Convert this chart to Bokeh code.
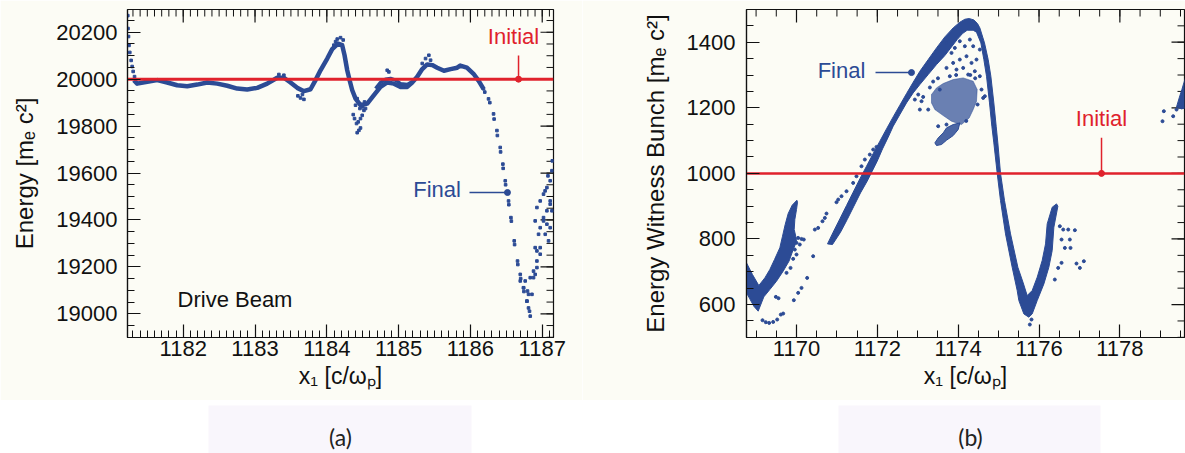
from bokeh.plotting import figure
from bokeh.layouts import column, row
from bokeh.models import SingleIntervalTicker, Range1d
from bokeh.core.properties import value
from bokeh.embed import file_html
from bokeh.resources import INLINE

BLUE = "#2c4b95"
RED = "#e0222c"
BG = "#fcfcf5"
INK = "#111111"
FONT = "Liberation Sans"

# ---------------- panel (a): drive beam ----------------
a_band_x = [1181.313, 1181.359, 1181.499, 1181.638, 1181.777, 1181.916, 1182.056, 1182.195, 1182.334,
            1182.473, 1182.613, 1182.752, 1182.891, 1183.031, 1183.170, 1183.309, 1183.402, 1183.494,
            1183.588, 1183.681, 1183.773, 1183.843, 1183.912, 1184.006, 1184.075, 1184.155, 1184.214,
            1184.247, 1184.284, 1184.321, 1184.354, 1184.400, 1184.469, 1184.563, 1184.656, 1184.748,
            1184.841, 1184.935, 1185.027, 1185.120, 1185.189, 1185.259, 1185.329, 1185.398, 1185.468,
            1185.537, 1185.631, 1185.723, 1185.816, 1185.858, 1185.951, 1186.043, 1186.113, 1186.182]
a_band_y = [19996, 19981, 19989, 19996, 19986, 19974, 19970, 19977, 19986, 19981, 19972, 19960, 19956,
            19963, 19981, 20006, 20006, 19986, 19963, 19949, 19957, 19996, 20038, 20088, 20128, 20152,
            20145, 20102, 20038, 19991, 19953, 19917, 19889, 19896, 19932, 19967, 19986, 19981, 19967,
            19967, 19986, 20010, 20043, 20063, 20060, 20049, 20036, 20043, 20049, 20058, 20049, 20023,
            19994, 19959]

a_branch_x = [1184.679, 1184.748, 1184.818, 1184.888, 1184.957, 1185.027, 1185.120, 1185.189]
a_branch_y = [19960, 19986, 20000, 20003, 19996, 19981, 19977, 19989]

a_pts_x = [1181.228, 1181.231, 1181.238, 1181.245, 1181.256, 1181.275, 1181.289, 1181.303, 1181.322,
           1183.597, 1183.634, 1183.681, 1183.660, 1183.332, 1183.402,
           1184.145, 1184.191, 1184.122, 1184.228, 1184.098,
           1184.368, 1184.386, 1184.414, 1184.423, 1184.447, 1184.469, 1184.437, 1184.493, 1184.517,
           1184.539, 1184.461, 1184.400, 1184.469, 1184.525, 1184.423, 1184.497,
           1184.841, 1184.864, 1185.421, 1185.375, 1185.445, 1185.329,
           1186.113, 1186.182, 1186.252, 1186.322, 1186.369, 1186.415, 1186.452, 1186.485, 1186.531,
           1186.564, 1186.610, 1186.656, 1186.694, 1186.740, 1186.787, 1186.823,
           1186.200, 1186.270, 1186.330, 1186.375, 1186.420, 1186.456, 1186.490, 1186.535, 1186.570,
           1186.615, 1186.660, 1186.700, 1186.745,
           1186.902, 1186.926, 1186.972, 1187.018, 1187.065, 1187.111, 1187.135, 1186.972, 1187.018,
           1187.065, 1186.949, 1186.902, 1186.926, 1186.972, 1187.111, 1187.088, 1187.042, 1187.111,
           1186.879, 1186.833, 1186.763, 1186.795, 1186.857, 1186.809, 1186.833, 1186.902, 1186.926,
           1186.972, 1187.065, 1187.135, 1186.694, 1186.740, 1186.787, 1186.926, 1187.018, 1187.111,
           1186.879, 1186.809, 1187.080, 1187.140, 1187.040]
a_pts_y = [20271, 20216, 20182, 20144, 20114, 20080, 20054, 20033, 20011,
           19929, 19920, 19914, 19935, 20020, 20017,
           20171, 20177, 20160, 20167, 20145,
           19849, 19832, 19811, 19772, 19782, 19792, 19818, 19846, 19867,
           19875, 19875, 19889, 19832, 19903, 19917, 19882,
           20038, 20031, 20102, 20088, 20081, 20067,
           19994, 19959, 19916, 19852, 19781, 19709, 19638, 19567, 19481,
           19410, 19311, 19225, 19168, 19111, 19054, 19011,
           19945, 19900, 19830, 19760, 19690, 19620, 19550, 19465, 19395,
           19295, 19210, 19150, 19095,
           19396, 19453, 19481, 19510, 19538, 19567, 19610, 19367, 19410,
           19439, 19339, 19282, 19225, 19254, 19481, 19311, 19339, 19367,
           19182, 19154, 19140, 19097, 19083, 19025, 18990, 19168, 19197,
           19282, 19382, 19439, 19140, 19111, 19054, 19268, 19396, 19467,
           19154, 19083, 19588, 19652, 19524]

a_text_x = [1185.535, 1186.600, 1182.721]
a_text_y = [19530, 20182, 19063]
a_text = ["Final", "Initial", "Drive Beam"]
a_initial_level = 20000

a_x_range = (1181.224, 1187.157)
a_y_range = (18899, 20297)
a_x_major = [1182, 1183, 1184, 1185, 1186, 1187]
a_y_major = [19000, 19200, 19400, 19600, 19800, 20000, 20200]

# ---------------- panel (b): witness bunch ----------------
b_left_x = [1168.763, 1168.911, 1169.068, 1169.217, 1169.340, 1169.456, 1169.588, 1169.654, 1169.720,
            1169.794, 1169.893, 1170.009, 1170.025, 1170.000, 1169.959, 1169.943, 1170.000, 1169.984,
            1169.918, 1169.819, 1169.670, 1169.505, 1169.340, 1169.192, 1169.052, 1168.944, 1168.845,
            1168.763]
b_left_y = [727.1, 691.5, 658.0, 681.3, 706.7, 737.2, 773.3, 808.3, 843.9, 877.5, 902.9, 918.1, 912.1,
            889.7, 859.2, 828.7, 798.2, 787.1, 767.7, 733.2, 701.7, 671.1, 645.7, 623.4, 579.8, 594.9,
            617.3, 635.6]

b_main_x = [1170.767, 1170.907, 1171.072, 1171.237, 1171.402, 1171.567, 1171.732, 1171.897, 1172.062,
            1172.227, 1172.392, 1172.557, 1172.722, 1172.887, 1173.052, 1173.258, 1173.464, 1173.670,
            1173.876, 1174.041, 1174.165, 1174.272, 1174.387, 1174.478,
            1174.536, 1174.651, 1174.742, 1174.808, 1174.882, 1174.940, 1174.981, 1175.047, 1175.146,
            1175.295, 1175.476, 1175.608, 1175.707,
            1175.831, 1175.955, 1176.078, 1176.161, 1176.202, 1176.326, 1176.433,
            1176.466, 1176.367, 1176.326, 1176.243, 1176.120, 1175.955, 1175.831, 1175.748,
            1175.625, 1175.501, 1175.460,
            1175.336, 1175.171, 1175.047, 1174.965, 1174.882, 1174.833, 1174.775, 1174.701, 1174.635,
            1174.561, 1174.453,
            1174.371, 1174.222, 1174.107, 1173.975, 1173.835, 1173.670, 1173.464, 1173.258, 1173.052,
            1172.887, 1172.722,
            1172.557, 1172.392, 1172.268, 1172.128, 1171.996, 1171.872, 1171.748, 1171.583, 1171.419,
            1171.254, 1171.089, 1170.890]
b_main_y = [785.0, 820.6, 861.2, 901.9, 942.6, 983.2, 1021.8, 1060.5, 1098.1, 1135.7, 1172.3, 1207.9,
            1243.4, 1278.0, 1311.5, 1347.1, 1382.7, 1416.2, 1443.7, 1461.0, 1470.1, 1472.2, 1468.1, 1456.9,
            1443.7, 1398.0, 1347.1, 1296.3, 1215.0, 1143.8, 1093.0, 1000.5, 917.1, 815.5, 713.8, 666.1,
            627.4,
            642.7, 683.4, 734.2, 785.0, 846.0, 896.8, 907.0,
            899.8, 835.8, 764.7, 713.8, 663.0, 612.2, 571.5, 561.4,
            571.5, 612.2, 642.7,
            713.8, 815.5, 917.1, 1000.5, 1093.0, 1143.8, 1215.0, 1296.3, 1347.1, 1398.0, 1430.5,
            1436.6, 1436.6, 1426.4, 1408.1, 1385.7, 1359.3, 1331.9, 1301.4, 1270.9, 1245.5, 1215.0,
            1179.4, 1143.8, 1110.3, 1074.7, 1037.1, 1006.6, 976.1, 940.5, 899.9, 859.2, 820.6, 783.0]

b_blob_x = [1173.340, 1173.464, 1173.629, 1173.876, 1174.124, 1174.371, 1174.470, 1174.453, 1174.371,
            1174.272, 1174.082, 1173.835, 1173.629, 1173.423, 1173.340]
b_blob_y = [1240.4, 1260.7, 1274.0, 1286.1, 1291.2, 1281.1, 1255.6, 1220.1, 1194.6, 1169.2, 1148.9,
            1159.1, 1176.4, 1194.6, 1215.0]

b_tail_x = [1173.423, 1173.505, 1173.629, 1173.711, 1173.876, 1174.041, 1174.000, 1173.876, 1173.711,
            1173.587, 1173.464]
b_tail_y = [1093.0, 1108.2, 1123.5, 1138.7, 1148.9, 1154.0, 1133.7, 1115.3, 1101.1, 1088.0, 1084.9]

b_edge_x = [1179.402, 1179.468, 1179.534, 1179.583, 1179.624, 1179.624, 1179.525]
b_edge_y = [1202.8, 1230.2, 1255.6, 1276.0, 1291.2, 1199.7, 1196.7]

b_pts_x = [1170.041, 1170.124, 1170.181, 1170.000, 1170.082, 1169.959, 1170.000, 1169.918, 1169.852,
           1169.753, 1169.489, 1169.555, 1169.159, 1169.241, 1169.324, 1169.423, 1169.522, 1169.612,
           1169.670, 1169.934, 1170.041, 1170.124, 1170.264, 1170.412, 1170.454, 1170.536, 1170.643,
           1170.742, 1170.701, 1170.990, 1171.113, 1171.031, 1171.237, 1171.402, 1171.484, 1171.608,
           1171.691, 1171.814, 1171.897, 1171.979,
           1173.052, 1173.093, 1173.258, 1172.928, 1173.011, 1173.134,
           1173.711, 1173.835, 1173.917, 1174.041, 1174.165, 1174.289, 1174.371, 1174.206, 1174.041,
           1173.876, 1173.711, 1173.958, 1174.124, 1174.330, 1174.453, 1174.412, 1174.247, 1174.536,
           1174.577, 1174.618, 1174.660, 1173.546, 1173.587, 1173.793, 1174.536, 1173.711, 1173.505,
           1176.515, 1176.598, 1176.722, 1176.887, 1176.557, 1176.763, 1176.639, 1176.779, 1176.927,
           1177.010, 1177.109, 1176.557, 1176.474, 1176.391, 1175.773, 1175.814,
           1179.055, 1179.088, 1179.319, 1179.402,
           1173.300, 1173.380, 1173.500, 1174.300, 1174.420, 1174.200, 1173.950, 1174.480]
b_pts_y = [803.3, 800.2, 798.2, 788.1, 783.0, 767.7, 752.5, 739.3, 711.8,
           696.6, 623.4, 619.3, 552.2, 546.1, 544.1, 547.1, 554.3, 569.5,
           572.5, 613.2, 635.6, 650.8, 681.3, 747.4, 828.7, 833.8, 854.1,
           877.5, 864.3, 912.1, 930.4, 920.2, 945.6, 971.0, 991.3, 1021.8,
           1042.2, 1057.4, 1072.7, 1080.8,
           1194.6, 1220.1, 1194.6, 1225.1, 1240.4, 1233.3,
           1398.0, 1367.5, 1382.7, 1403.0, 1387.8, 1408.1, 1387.8, 1357.3, 1347.1,
           1337.0, 1321.7, 1316.6, 1321.7, 1337.0, 1347.1, 1311.5, 1301.4, 1296.3,
           1255.6, 1230.2, 1235.3, 1255.6, 1357.3, 1296.3, 1377.6, 1148.9, 1143.8,
           838.9, 828.7, 828.7, 826.7, 798.2, 798.2, 772.8, 772.8, 725.0,
           711.8, 732.1, 727.1, 711.8, 676.2, 539.0, 554.3,
           1159.1, 1189.6, 1174.3, 1194.6,
           1262.0, 1280.0, 1290.0, 1300.0, 1290.0, 1160.0, 1300.0, 1210.0]

b_text_x = [1171.113, 1177.546]
b_text_y = [1313.5, 1167.0]
b_text = ["Final", "Initial"]
b_initial_level = 1000

b_x_range = (1168.763, 1179.599)
b_y_range = (499.5, 1499.8)
b_x_major = [1170, 1172, 1174, 1176, 1178]
b_y_major = [600, 800, 1000, 1200, 1400]

captions = ["(a)", "(b)"]

FRAME_H = 328
MAJ_LEN, MIN_LEN = 13, 7


def style_axis(ax):
    ax.axis_line_color = INK
    ax.axis_line_width = 1.2
    ax.major_tick_line_color = INK
    ax.minor_tick_line_color = INK
    ax.major_tick_line_width = 1.2
    ax.minor_tick_line_width = 1.0
    ax.major_tick_in = MAJ_LEN
    ax.major_tick_out = 0
    ax.minor_tick_in = MIN_LEN
    ax.minor_tick_out = 0
    ax.major_label_text_font = FONT
    ax.major_label_text_font_size = "22px"
    ax.major_label_text_color = INK
    ax.axis_label_text_font = FONT
    ax.axis_label_text_font_size = "23px"
    ax.axis_label_text_font_style = "normal"
    ax.axis_label_text_color = INK


def make_panel(width, xr, yr, mb_left, mb_right, xt, xminor, yt, yminor, xmaj, ymaj):
    p = figure(width=width, height=400, x_range=Range1d(*xr), y_range=Range1d(*yr),
               output_backend="svg", toolbar_location=None,
               min_border_left=mb_left, min_border_right=mb_right,
               min_border_top=9, min_border_bottom=63)
    p.background_fill_color = BG
    p.border_fill_color = BG
    p.outline_line_color = INK
    p.outline_line_width = 1.2
    p.grid.visible = False
    p.xaxis.ticker = SingleIntervalTicker(interval=xt, num_minor_ticks=xminor)
    p.yaxis.ticker = SingleIntervalTicker(interval=yt, num_minor_ticks=yminor)
    for ax in p.xaxis + p.yaxis:
        style_axis(ax)
    # mirrored inward ticks on the top and right edges of the frame
    fw = width - mb_left - mb_right
    dx = (xr[1] - xr[0]) / fw
    dy = (yr[1] - yr[0]) / FRAME_H
    xstep = xt / xminor
    ystep = yt / yminor
    xmin_t = [xmaj[0] + k * xstep for k in range(-xminor, xminor * len(xmaj) + 1)]
    xmin_t = [v for v in xmin_t if xr[0] < v < xr[1]]
    ymin_t = [ymaj[0] + k * ystep for k in range(-yminor, yminor * len(ymaj) + 1)]
    ymin_t = [v for v in ymin_t if yr[0] < v < yr[1]]
    p.segment(x0=xmin_t, y0=[yr[1]] * len(xmin_t), x1=xmin_t, y1=[yr[1] - MIN_LEN * dy] * len(xmin_t),
              line_color=INK, line_width=1.0)
    p.segment(x0=xmaj, y0=[yr[1]] * len(xmaj), x1=xmaj, y1=[yr[1] - MAJ_LEN * dy] * len(xmaj),
              line_color=INK, line_width=1.2)
    p.segment(x0=[xr[1]] * len(ymin_t), y0=ymin_t, x1=[xr[1] - MIN_LEN * dx] * len(ymin_t), y1=ymin_t,
              line_color=INK, line_width=1.0)
    p.segment(x0=[xr[1]] * len(ymaj), y0=ymaj, x1=[xr[1] - MAJ_LEN * dx] * len(ymaj), y1=ymaj,
              line_color=INK, line_width=1.2)
    return p


# ---- panel (a)
fa = make_panel(582, a_x_range, a_y_range, 127, 29, 1, 10, 200, 4, a_x_major, a_y_major)
xa, ya = fa.below[0], fa.left[0]
xa.axis_label = "x\u2081 [c/\u03c9\u209a]"
ya.axis_label = "Energy [m\u2091 c\u00b2]"
ya.axis_label_text_font_size = "24px"
xa.major_label_standoff = 3
xa.axis_label_standoff = 4
ya.major_label_standoff = 10
ya.axis_label_standoff = 15

fa.line(a_band_x, a_band_y, line_width=4.5, color=BLUE, line_join="round")
fa.line(a_branch_x, a_branch_y, line_width=3.5, color=BLUE, line_join="round")
fa.scatter(a_pts_x, a_pts_y, marker="square", size=2.6, color=BLUE)
fa.line(list(a_x_range), [a_initial_level, a_initial_level], line_width=3, color=RED)
fa.segment([1185.987], [19517], [1186.516], [19517], line_width=1.5, color=BLUE)
fa.scatter([1186.516], [19517], size=6, color=BLUE)
fa.segment([1186.670], [20101], [1186.670], [a_initial_level], line_width=1.5, color=RED)
fa.scatter([1186.670], [a_initial_level], size=6, color=RED)
fa.text(a_text_x, a_text_y, text=a_text, text_align="center", text_baseline="middle",
        text_font=value(FONT), text_font_size="22px", text_color=[BLUE, RED, INK])

# ---- panel (b)
fb = make_panel(603, b_x_range, b_y_range, 164, 1, 2, 4, 200, 4, b_x_major, b_y_major)
xb, yb = fb.below[0], fb.left[0]
xb.axis_label = "x\u2081 [c/\u03c9\u209a]"
yb.axis_label = "Energy Witness Bunch [m\u2091 c\u00b2]"
yb.axis_label_text_font_size = "24px"
xb.major_label_standoff = 3
xb.axis_label_standoff = 4
yb.major_label_standoff = 11
yb.axis_label_standoff = 15

fb.patch(b_left_x, b_left_y, fill_color=BLUE, line_color=BLUE, line_width=1)
fb.patch(b_main_x, b_main_y, fill_color=BLUE, line_color=BLUE, line_width=1)
fb.patch(b_blob_x, b_blob_y, fill_color=BLUE, fill_alpha=0.7, line_color=BLUE, line_alpha=0.5, line_width=1)
fb.patch(b_tail_x, b_tail_y, fill_color=BLUE, fill_alpha=0.85, line_color=BLUE, line_width=1)
fb.patch(b_edge_x, b_edge_y, fill_color=BLUE, line_color=BLUE, line_width=1)
fb.scatter(b_pts_x, b_pts_y, marker="circle", size=3, color=BLUE)
fb.line(list(b_x_range), [b_initial_level, b_initial_level], line_width=2.5, color=RED)
fb.segment([1171.955], [1307.5], [1172.845], [1307.5], line_width=1.5, color=BLUE)
fb.scatter([1172.845], [1307.5], size=6, color=BLUE)
fb.segment([1177.546], [1108.9], [1177.546], [b_initial_level], line_width=1.5, color=RED)
fb.scatter([1177.546], [b_initial_level], size=6, color=RED)
fb.text(b_text_x, b_text_y, text=b_text, text_align="center", text_baseline="middle",
        text_font=value(FONT), text_font_size="22px", text_color=[BLUE, RED])

# ---- captions
cap = figure(width=1185, height=53, x_range=Range1d(0, 1185), y_range=Range1d(453, 400),
             output_backend="svg", toolbar_location=None, min_border=0)
cap.axis.visible = False
cap.grid.visible = False
cap.outline_line_color = None
cap.background_fill_color = "white"
cap.border_fill_color = "white"
cap.quad(left=[208, 838], right=[471, 1100], top=[405, 405], bottom=[453, 453],
         fill_color="#f9f6fc", line_color=None)
cap.text([340, 970], [436, 436], text=captions, text_align="center", text_baseline="middle",
         text_font=value("Lato"), text_font_size="23px", text_color="#222222")

layout = column(row(fa, fb), cap)
open("out.html", "w").write(file_html(layout, INLINE))
